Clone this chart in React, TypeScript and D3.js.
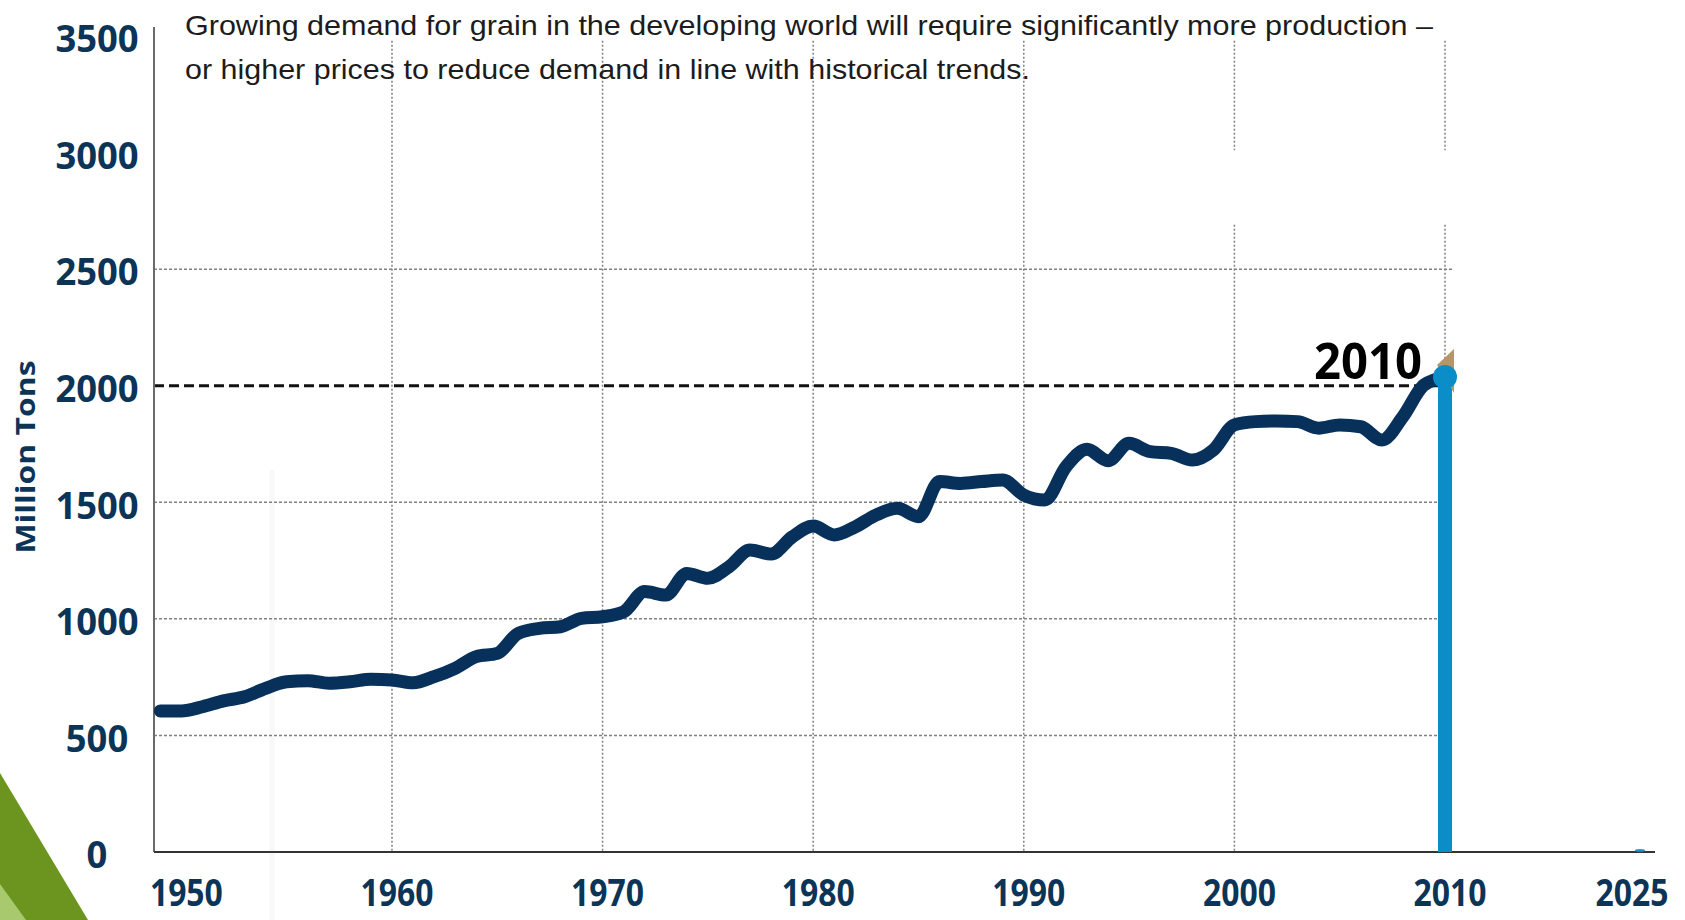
import React from "react";
import * as d3 from "d3";

// world grain demand, million tons
const years = [
  1949, 1950, 1951, 1952, 1953, 1954, 1955, 1956, 1957, 1958, 1959, 1960, 1961,
  1962, 1963, 1964, 1965, 1966, 1967, 1968, 1969, 1970, 1971, 1972, 1973, 1974,
  1975, 1976, 1977, 1978, 1979, 1980, 1981, 1982, 1983, 1984, 1985, 1986, 1987,
  1988, 1989, 1990, 1991, 1992, 1993, 1994, 1995, 1996, 1997, 1998, 1999, 2000,
  2001, 2002, 2003, 2004, 2005, 2006, 2007, 2008, 2009, 2010,
];
const demand = [
  605, 605, 623, 648, 666, 702, 730, 735, 724, 730, 741, 738, 726, 752, 788,
  838, 852, 938, 959, 966, 1002, 1009, 1030, 1117, 1102, 1195, 1174, 1223, 1295,
  1278, 1351, 1398, 1360, 1395, 1446, 1474, 1438, 1589, 1581, 1589, 1596, 1531,
  1510, 1652, 1727, 1678, 1753, 1717, 1710, 1681, 1724, 1832, 1846, 1849, 1846,
  1818, 1832, 1824, 1767, 1867, 2003, 2037,
];

// highlighted bars
const barYears = [2010, 2025];
const barValues = [2037, 12];

const xTicks = [1950, 1960, 1970, 1980, 1990, 2000, 2010, 2025];
const xGridYears = [1960, 1970, 1980, 1990, 2000, 2010];
const yTicks = [0, 500, 1000, 1500, 2000, 2500, 3000, 3500];
const yGridValues = [500, 1000, 1500, 2500];
const targetValue = 2000;
const markYear = 2010;

const titleLines = [
  "Growing demand for grain in the developing world will require significantly more production \u2013",
  "or higher prices to reduce demand in line with historical trends.",
];
const yTitle = "Million Tons";

const navy = "#0c3457";
const lineNavy = "#07315a";
const blue = "#0b8ec8";

export default function App() {
  const width = 1685;
  const height = 920;

  const x = d3
    .scaleLinear()
    .domain([1948.7, 2010, 2025])
    .range([154, 1445, 1640]);
  const y = d3.scaleLinear().domain([0, 3500]).range([852, 36]);

  const left = x(1948.7);
  const bottom = y(0);
  const gridTop = y(3480);
  const gridRight = x(2010) + 7;

  const data = years.map((yr, i) => ({ yr, v: demand[i] }));
  const line = d3
    .line<{ yr: number; v: number }>()
    .x((d) => x(d.yr))
    .y((d) => y(d.v))
    .curve(d3.curveMonotoneX);

  const cx = x(markYear);
  const cy = y(demand[demand.length - 1]);

  const fontDigits = "'Open Sans', 'DejaVu Sans', sans-serif";

  return (
    <svg
      width={width}
      height={height}
      style={{ position: "absolute", left: 0, top: 0, display: "block", background: "#fff" }}
    >
      {/* corner decoration */}
      <polygon points="0,773 88,920 0,920" fill="#6b951f" />
      <polygon points="0,884 26,920 0,920" fill="#a9c96e" />
      <line x1={272} x2={272} y1={470} y2={920} stroke="#f8f8f8" strokeWidth={5} />

      {/* horizontal grid */}
      {yGridValues.map((v) => (
        <line
          key={"h" + v}
          x1={left}
          x2={gridRight}
          y1={y(v)}
          y2={y(v)}
          stroke="#808080"
          strokeWidth={1.5}
          strokeDasharray="3 2"
        />
      ))}

      {/* vertical grid (the last two are broken near the top) */}
      {xGridYears.map((yr) =>
        yr >= 2000 ? (
          <g key={"v" + yr}>
            <line x1={x(yr)} x2={x(yr)} y1={gridTop} y2={y(3010)} stroke="#808080" strokeWidth={1.5} strokeDasharray="2 2" />
            <line x1={x(yr)} x2={x(yr)} y1={y(2690)} y2={bottom} stroke="#808080" strokeWidth={1.5} strokeDasharray="2 2" />
          </g>
        ) : (
          <line key={"v" + yr} x1={x(yr)} x2={x(yr)} y1={gridTop} y2={bottom} stroke="#808080" strokeWidth={1.5} strokeDasharray="2 2" />
        )
      )}

      {/* 2000 Mt reference */}
      <line
        x1={left}
        x2={cx - 6}
        y1={y(targetValue)}
        y2={y(targetValue)}
        stroke="#111"
        strokeWidth={3}
        strokeDasharray="10 5"
      />

      {/* axes */}
      <line x1={left} x2={left} y1={27} y2={bottom} stroke="#6a6a6a" strokeWidth={2} />
      <line x1={left} x2={1655} y1={bottom} y2={bottom} stroke="#333" strokeWidth={2} />

      {/* bars */}
      {barYears.map((yr, i) => {
        const w = i === 0 ? 14 : 10;
        return (
          <rect
            key={"b" + yr}
            x={x(yr) - w / 2}
            y={y(barValues[i])}
            width={w}
            height={bottom - y(barValues[i])}
            fill={blue}
            rx={i === 0 ? 0 : 3}
          />
        );
      })}

      {/* demand line */}
      <path
        d={line(data) || ""}
        fill="none"
        stroke={lineNavy}
        strokeWidth={13}
        strokeLinecap="round"
        strokeLinejoin="round"
      />

      {/* 2010 marker */}
      <polygon
        points={`${cx - 8},${cy - 12} ${cx + 9},${cy - 28} ${cx + 9},${cy + 16}`}
        fill="#b5956a"
      />
      <circle cx={cx} cy={cy} r={12} fill={blue} />
      <text
        x={1422}
        y={cy + 2}
        textAnchor="end"
        fontFamily={fontDigits}
        fontWeight={700}
        fontSize={51}
        fill="#000"
        textLength={108}
        lengthAdjust="spacingAndGlyphs"
      >
        {markYear}
      </text>

      {/* y tick labels */}
      {yTicks.map((v) => {
        const s = String(v);
        return (
          <text
            key={"yt" + v}
            x={97}
            y={y(v) + 3}
            dy="0.35em"
            textAnchor="middle"
            fontFamily={fontDigits}
            fontWeight={700}
            fontSize={38}
            fill={navy}
            textLength={s.length * 20.8}
            lengthAdjust="spacingAndGlyphs"
          >
            {s}
          </text>
        );
      })}

      {/* x tick labels */}
      {xTicks.map((yr) => (
        <text
          key={"xt" + yr}
          x={x(yr) + (yr > markYear ? -8 : 5)}
          y={906}
          textAnchor="middle"
          fontFamily={fontDigits}
          fontWeight={700}
          fontSize={37}
          fill={navy}
          textLength={73}
          lengthAdjust="spacingAndGlyphs"
        >
          {yr}
        </text>
      ))}

      {/* y axis title */}
      <text
        transform="translate(35,457) rotate(-90)"
        textAnchor="middle"
        fontFamily={fontDigits}
        fontWeight={700}
        fontSize={27}
        fill={navy}
        textLength={193}
        lengthAdjust="spacingAndGlyphs"
      >
        {yTitle}
      </text>

      {/* heading */}
      {titleLines.map((t, i) => (
        <text
          key={"t" + i}
          x={185}
          y={35 + i * 44}
          fontFamily="'Liberation Sans', Arial, sans-serif"
          fontSize={28}
          fill="#1c1c1c"
          textLength={i === 0 ? 1248 : 845}
          lengthAdjust="spacingAndGlyphs"
        >
          {t}
        </text>
      ))}
    </svg>
  );
}
